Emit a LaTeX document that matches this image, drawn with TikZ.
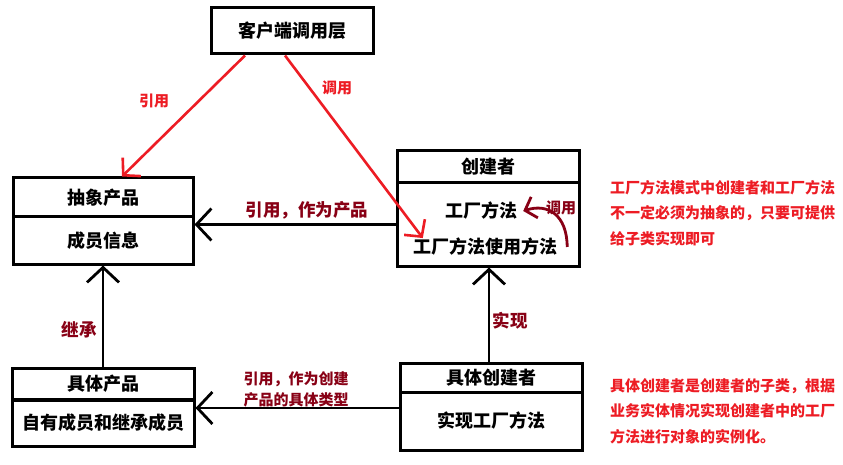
\documentclass[tikz,border=0pt]{standalone}
\usepackage{fontspec}
\setmainfont{Noto Sans CJK SC}
\usepackage{xcolor}
\usetikzlibrary{arrows.meta,positioning,calc}
\definecolor{paintred}{HTML}{ED1C24}
\definecolor{paintdark}{HTML}{880015}

\tikzset{
  box/.style={draw, line width=3pt, inner sep=0pt, font=\fontsize{18}{20}\selectfont\bfseries},
  method/.style={inner sep=0pt, font=\fontsize{18}{20}\selectfont\bfseries},
  openhead/.style={-{Straight Barb[length=15pt,width=32pt]}},
  redhead/.style={-{Straight Barb[length=12pt,width=26pt]}},
  note/.style={text=paintred, align=left, inner sep=0pt, font=\fontsize{15}{25.5}\selectfont\bfseries},
  darklabel/.style={text=paintdark, inner sep=0pt, font=\fontsize{17.5}{20}\selectfont\bfseries},
  smalllabel/.style={inner sep=0pt, font=\fontsize{15}{21}\selectfont\bfseries}
}

\begin{document}
\begin{tikzpicture}[x=1pt, y=-1pt]
  \fill[white] (0,0) rectangle (843,465);
  \useasboundingbox (0,0) rectangle (843,465);

  % client
  \node[box, minimum width=162pt, minimum height=46pt] (client) at (292,31) {客户端调用层};

  % abstract product
  \node[box, minimum width=180pt, minimum height=39pt] (abshead) at (103,197.5) {抽象产品};
  \node[box, minimum width=180pt, minimum height=47pt] (absbody) at (103,240.5) {成员信息};

  % creator
  \node[box, minimum width=182pt, minimum height=32pt] (crehead) at (488,167) {创建者};
  \node[box, minimum width=182pt, minimum height=83pt] (crebody) at (488,224.5) {};
  \node[method] (facmethod) at (481,211) {工厂方法};
  \node[method] (usemethod) at (485,247) {工厂方法使用方法};

  % concrete product
  \node[box, minimum width=182pt, minimum height=32pt] (conhead) at (103,384) {具体产品};
  \node[box, minimum width=182pt, minimum height=47pt] (conbody) at (103,422.5) {自有成员和继承成员};

  % concrete creator
  \node[box, minimum width=182pt, minimum height=29pt] (cchead) at (491,377.5) {具体创建者};
  \node[box, minimum width=182pt, minimum height=58pt] (ccbody) at (491,421) {实现工厂方法};

  % client calls
  \draw[redhead, paintred, line width=2.6pt] ([xshift=-47pt]client.south) -- ([xshift=19pt]abshead.north);
  \draw[redhead, paintred, line width=2.6pt] ([xshift=-7pt]client.south) -- ([xshift=10pt]usemethod.north west);
  \node[smalllabel, text=paintred] (lblref) at (154,101) {引用};
  \node[smalllabel, text=paintred] (lblcall) at (337,88) {调用};

  % creator -> abstract product
  \draw[openhead, line width=2.8pt] (crebody.west) -- (crebody.west -| absbody.east);
  \node[darklabel] (lblprod) at (307,210) {引用，作为产品};

  % self call
  \draw[-{Straight Barb[length=10pt,width=22pt]}, paintdark, line width=2.8pt]
    ([xshift=10pt]usemethod.east) .. controls (567,215) and (548,203) .. ([xshift=6pt]facmethod.east);
  \node[smalllabel, text=paintdark] (lblself) at (561,208) {调用};

  % inheritance
  \draw[openhead, line width=2.8pt] (conhead.north) -- (absbody.south);
  \node[darklabel] (lblinh) at (79,330) {继承};

  % realisation
  \draw[openhead, line width=2.8pt] ([xshift=-2pt]cchead.north) -- ([xshift=-2pt]cchead.north |- crebody.south);
  \node[darklabel] (lblreal) at (510,321) {实现};

  % concrete creator -> concrete product
  \draw[openhead, line width=2.8pt] ([yshift=13pt]ccbody.west) -- ([yshift=13pt]ccbody.west -| conbody.east);
  \node[smalllabel, text=paintdark, align=left] (lbltype) at (296,389) {引用，作为创建\\产品的具体类型};

  % notes
  \node[note, anchor=west] (note1) at (610,213) {工厂方法模式中创建者和工厂方法\\不一定必须为抽象的，只要可提供\\给子类实现即可};
  \node[note, anchor=west] (note2) at (610,411) {具体创建者是创建者的子类，根据\\业务实体情况实现创建者中的工厂\\方法进行对象的实例化。};
\end{tikzpicture}
\end{document}
